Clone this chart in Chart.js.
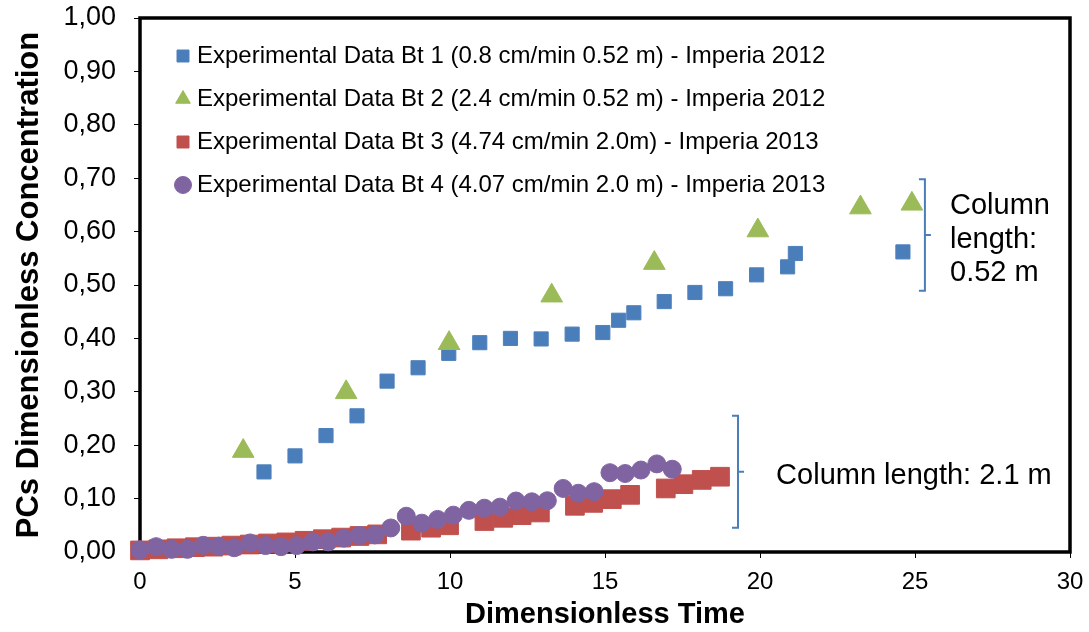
<!DOCTYPE html>
<html>
<head>
<meta charset="utf-8">
<script src="https://cdn.jsdelivr.net/npm/chart.js@4/dist/chart.umd.min.js"></script>
<style>
  html, body { margin: 0; padding: 0; background: #fff; }
  #wrap { width: 1089px; height: 632px; }
</style>
</head>
<body>
<div id="wrap"><canvas id="chart" width="1089" height="632"></canvas></div>
<script>
// series labels
const seriesNames = [
  'Experimental Data Bt 1 (0.8 cm/min 0.52 m) - Imperia 2012',
  'Experimental Data Bt 2 (2.4 cm/min 0.52 m) - Imperia 2012',
  'Experimental Data Bt 3 (4.74 cm/min 2.0m) - Imperia 2013',
  'Experimental Data Bt 4 (4.07 cm/min 2.0 m) - Imperia 2013'
];

// Bt 1 - blue squares
const bt1X = [4, 5, 6, 7, 7.97, 8.97, 9.96, 10.96, 11.95, 12.94, 13.94, 14.93, 15.44, 15.93, 16.91, 17.9, 18.89, 19.89, 20.89, 21.14, 24.61];
const bt1Y = [0.150, 0.180, 0.218, 0.255, 0.320, 0.345, 0.372, 0.392, 0.400, 0.399, 0.408, 0.411, 0.434, 0.448, 0.469, 0.486, 0.493, 0.519, 0.534, 0.559, 0.562];

// Bt 2 - green triangles
const bt2X = [3.33, 6.65, 9.97, 13.28, 16.59, 19.93, 23.24, 24.9];
const bt2Y = [0.189, 0.299, 0.391, 0.480, 0.541, 0.602, 0.645, 0.652];

// Bt 3 - red squares
const bt3X = [0, 0.59, 1.18, 1.77, 2.36, 2.95, 3.54, 4.13, 4.72, 5.31, 5.9, 6.49, 7.08, 7.65,
  8.74, 9.39, 9.97, 11.11, 11.72, 12.31, 12.9, 14.03, 14.62, 15.22, 15.81, 16.96, 17.53, 18.12, 18.71];
const bt3Y = [0.003, 0.005, 0.007, 0.009, 0.010, 0.012, 0.014, 0.016, 0.018, 0.021, 0.024, 0.027, 0.030, 0.033,
  0.040, 0.0455, 0.050, 0.058, 0.064, 0.069, 0.074, 0.0865, 0.092, 0.099, 0.107, 0.119, 0.127, 0.135, 0.141];

// Bt 4 - purple circles
const bt4X = [0, 0.52, 1.02, 1.53, 2.04, 2.54, 3.04, 3.55, 4.05, 4.55, 5.05, 5.57, 6.07, 6.58, 7.07, 7.58,
  8.09, 8.59, 9.09, 9.6, 10.11, 10.61, 11.11, 11.61, 12.13, 12.64, 13.14, 13.65, 14.14, 14.65, 15.16, 15.65, 16.16, 16.67, 17.17];
const bt4Y = [0.004, 0.010, 0.005, 0.005, 0.0125, 0.011, 0.008, 0.017, 0.012, 0.010, 0.012, 0.019, 0.019, 0.026, 0.031, 0.032,
  0.045, 0.067, 0.054, 0.061, 0.069, 0.078, 0.082, 0.084, 0.0955, 0.094, 0.096, 0.119, 0.110, 0.113, 0.1485, 0.147, 0.1535, 0.165, 0.155];

// axis ticks
const xTicks = [0, 5, 10, 15, 20, 25, 30];
const yTickLabels = ['0,00', '0,10', '0,20', '0,30', '0,40', '0,50', '0,60', '0,70', '0,80', '0,90', '1,00'];

// bracket notes (data coordinates)
const notes = [
  { x: 25.32, yTop: 0.698, yBottom: 0.489, textX: 26.13, lines: ['Column', 'length:', '0.52 m'], lineY: [0.648, 0.584, 0.522] },
  { x: 19.29, yTop: 0.255, yBottom: 0.0455, textX: 20.52, lines: ['Column length: 2.1 m'], lineY: [0.1425] }
];

const toPoints = (xs, ys) => xs.map((x, i) => ({ x, y: ys[i] }));

Chart.defaults.font.family = '"Liberation Sans", Arial, sans-serif';
Chart.defaults.color = '#000';

// black frame around the plot
const framePlugin = {
  id: 'frame',
  beforeDatasetsDraw(chart) {
    const { ctx, chartArea: a } = chart;
    ctx.save();
    ctx.strokeStyle = '#000';
    ctx.lineWidth = 3.5;
    ctx.strokeRect(a.left, a.top, a.right - a.left, a.bottom - a.top);
    ctx.restore();
  }
};

// legend sits inside the plot, push it to the right spot
const legendShift = {
  id: 'legendShift',
  afterLayout(chart) {
    if (chart.legend) {
      chart.legend.left += 22;
      chart.legend.top += 25;
    }
  }
};

// brackets + column length labels
const notesPlugin = {
  id: 'notes',
  afterDraw(chart) {
    const { ctx, scales: { x, y } } = chart;
    ctx.save();
    notes.forEach(n => {
      const px = x.getPixelForValue(n.x);
      const top = y.getPixelForValue(n.yTop);
      const bot = y.getPixelForValue(n.yBottom);
      const mid = (top + bot) / 2;
      ctx.strokeStyle = '#4a7ebb';
      ctx.lineWidth = 2;
      ctx.beginPath();
      ctx.moveTo(px - 6, top);
      ctx.lineTo(px, top);
      ctx.lineTo(px, bot);
      ctx.lineTo(px - 6, bot);
      ctx.moveTo(px, mid);
      ctx.lineTo(px + 6, mid);
      ctx.stroke();

      ctx.fillStyle = '#000';
      ctx.font = '29px "Liberation Sans", Arial, sans-serif';
      ctx.textAlign = 'left';
      ctx.textBaseline = 'middle';
      n.lines.forEach((t, i) => {
        ctx.fillText(t, x.getPixelForValue(n.textX), y.getPixelForValue(n.lineY[i]));
      });
    });
    ctx.restore();
  }
};

// the tick labels may hang over the plot edges, don't let them shrink the plot
const noEdgePadding = scale => {
  scale.paddingTop = 0;
  scale.paddingBottom = 0;
  scale.paddingLeft = 0;
  scale.paddingRight = 0;
};

const ctx = document.getElementById('chart').getContext('2d');
new Chart(ctx, {
  type: 'scatter',
  data: {
    datasets: [
      {
        label: seriesNames[0],
        data: toPoints(bt1X, bt1Y),
        pointStyle: 'rect',
        pointRadius: 10,
        backgroundColor: '#4a7ebb',
        borderColor: '#4f81bd',
        borderWidth: 1,
        order: 4,
        clip: false
      },
      {
        label: seriesNames[1],
        data: toPoints(bt2X, bt2Y),
        pointStyle: 'triangle',
        pointRadius: 12.5,
        backgroundColor: '#9bbb59',
        borderColor: '#9bbb59',
        borderWidth: 1,
        order: 3,
        clip: false
      },
      {
        label: seriesNames[2],
        data: toPoints(bt3X, bt3Y),
        pointStyle: 'rect',
        pointRadius: 13.2,
        backgroundColor: '#c0504d',
        borderColor: '#c0504d',
        borderWidth: 1,
        order: 2,
        clip: false
      },
      {
        label: seriesNames[3],
        data: toPoints(bt4X, bt4Y),
        pointStyle: 'circle',
        pointRadius: 9,
        backgroundColor: '#8064a2',
        borderColor: '#8064a2',
        borderWidth: 1,
        order: 1,
        clip: false
      }
    ]
  },
  options: {
    responsive: false,
    animation: false,
    events: [],
    layout: { padding: { left: 0, right: 19, top: 18, bottom: 0 } },
    plugins: {
      tooltip: { enabled: false },
      legend: {
        position: 'chartArea',
        align: 'start',
        labels: {
          usePointStyle: true,
          boxWidth: 4,
          boxHeight: 12,
          padding: 19,
          color: '#000',
          font: { size: 24 },
          sort: (a, b) => a.datasetIndex - b.datasetIndex
        }
      }
    },
    scales: {
      x: {
        type: 'linear',
        min: 0,
        max: 30,
        afterBuildTicks: scale => { scale.ticks = xTicks.map(v => ({ value: v })); },
        afterFit: scale => { scale.height = 80; noEdgePadding(scale); },
        grid: { drawOnChartArea: false, drawTicks: true, tickLength: 6, color: '#000' },
        border: { display: false },
        ticks: {
          padding: 10,
          color: '#000',
          font: { size: 24 }
        },
        title: {
          display: true,
          text: 'Dimensionless Time',
          color: '#000',
          padding: { top: 0, bottom: 3 },
          font: { size: 29, weight: 'bold', lineHeight: 1 }
        }
      },
      y: {
        type: 'linear',
        min: 0,
        max: 1,
        afterBuildTicks: scale => { scale.ticks = yTickLabels.map((t, i) => ({ value: i / 10 })); },
        afterFit: scale => { scale.width = 140; noEdgePadding(scale); },
        grid: { drawOnChartArea: false, drawTicks: true, tickLength: 6, color: '#000' },
        border: { display: false },
        ticks: {
          padding: 18,
          color: '#000',
          font: { size: 27 },
          callback: (v, i) => yTickLabels[i]
        },
        title: {
          display: true,
          text: 'PCs Dimensionless Concentration',
          color: '#000',
          padding: { top: 11, bottom: 0 },
          font: { size: 31, weight: 'bold' }
        }
      }
    }
  },
  plugins: [framePlugin, legendShift, notesPlugin]
});
</script>
</body>
</html>
